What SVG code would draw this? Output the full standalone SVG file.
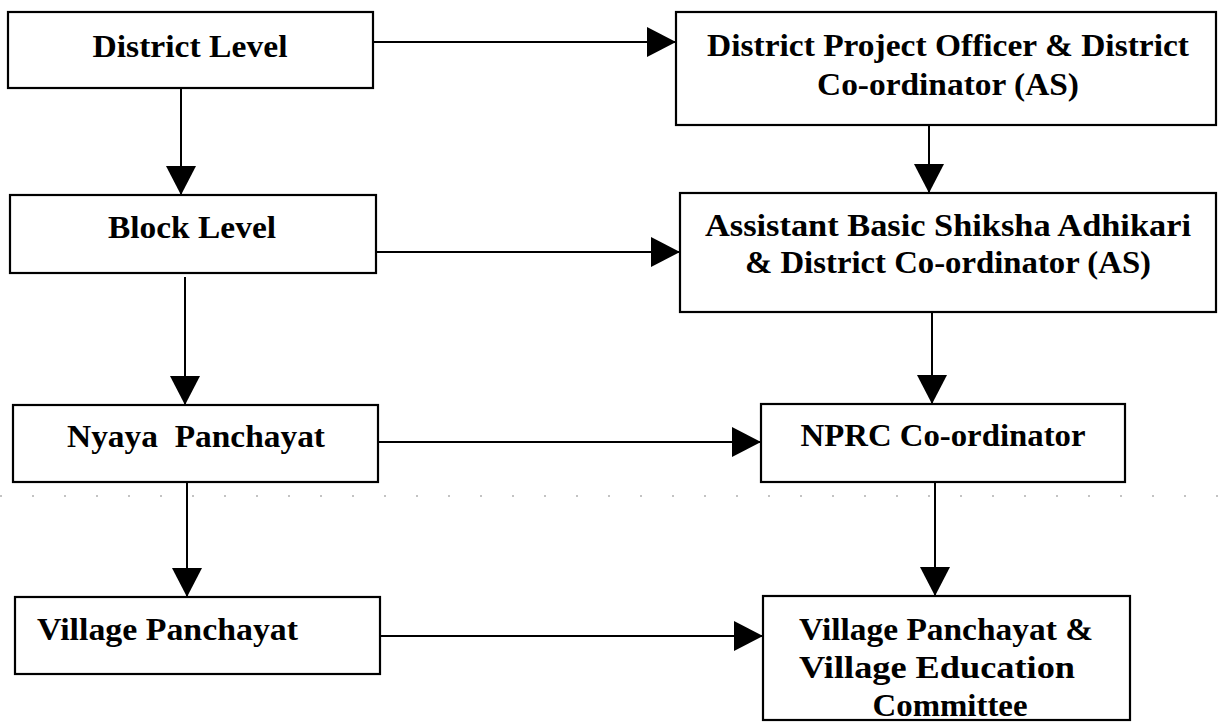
<svg xmlns="http://www.w3.org/2000/svg" width="1225" height="728" viewBox="0 0 1225 728">
<defs>
<style>
.box{fill:#fff;stroke:#000;stroke-width:2.2}
.lbl{font-family:"Liberation Serif","Times New Roman",serif;font-weight:bold;font-size:32px;fill:#000}
.c{text-anchor:middle}
.con{stroke:#000;stroke-width:2;fill:none;marker-end:url(#ah)}
.dots{stroke:#888;stroke-width:1.2;stroke-dasharray:2 30;fill:none}
</style>
<marker id="ah" markerUnits="userSpaceOnUse" markerWidth="29" markerHeight="30" refX="29" refY="15" orient="auto" viewBox="0 0 29 30">
<path d="M0,0 L29,15 L0,30 Z" fill="#000"/>
</marker>
</defs>
<rect width="1225" height="728" fill="#fff"/>
<line class="dots" x1="0" y1="496" x2="1225" y2="496"/>
<g id="connectors">
<line class="con" x1="373" y1="42" x2="676" y2="42"/>
<line class="con" x1="181" y1="88" x2="181" y2="195"/>
<line class="con" x1="929" y1="125" x2="929" y2="193"/>
<line class="con" x1="376" y1="252" x2="680" y2="252"/>
<line class="con" x1="185" y1="277" x2="185" y2="405"/>
<line class="con" x1="932" y1="312" x2="932" y2="404"/>
<line class="con" x1="378" y1="442" x2="761" y2="442"/>
<line class="con" x1="187" y1="482" x2="187" y2="597"/>
<line class="con" x1="935" y1="482" x2="935" y2="596"/>
<line class="con" x1="380" y1="636" x2="763" y2="636"/>
</g>
<g id="district-level">
<rect class="box" x="8" y="12" width="365" height="76"/>
<text class="lbl c" x="190" y="57" textLength="195" lengthAdjust="spacingAndGlyphs">District Level</text>
</g>
<g id="dpo">
<rect class="box" x="676" y="12" width="540" height="113"/>
<text class="lbl c" x="948" y="56" textLength="482" lengthAdjust="spacingAndGlyphs">District Project Officer &amp; District</text>
<text class="lbl c" x="948" y="95" textLength="262" lengthAdjust="spacingAndGlyphs">Co-ordinator (AS)</text>
</g>
<g id="block-level">
<rect class="box" x="10" y="195" width="366" height="78"/>
<text class="lbl c" x="192" y="238" textLength="168" lengthAdjust="spacingAndGlyphs">Block Level</text>
</g>
<g id="absa">
<rect class="box" x="680" y="193" width="536" height="119"/>
<text class="lbl c" x="948" y="236" textLength="486" lengthAdjust="spacingAndGlyphs">Assistant Basic Shiksha Adhikari</text>
<text class="lbl c" x="948" y="273" textLength="406" lengthAdjust="spacingAndGlyphs">&amp; District Co-ordinator (AS)</text>
</g>
<g id="nyaya-panchayat">
<rect class="box" x="13" y="405" width="365" height="77"/>
<text class="lbl c" x="196" y="447" textLength="258" lengthAdjust="spacingAndGlyphs" xml:space="preserve">Nyaya  Panchayat</text>
</g>
<g id="nprc">
<rect class="box" x="761" y="404" width="364" height="78"/>
<text class="lbl c" x="943" y="446" textLength="285" lengthAdjust="spacingAndGlyphs">NPRC Co-ordinator</text>
</g>
<g id="village-panchayat">
<rect class="box" x="15" y="597" width="365" height="77"/>
<text class="lbl" x="37" y="640" textLength="261" lengthAdjust="spacingAndGlyphs">Village Panchayat</text>
</g>
<g id="vpvec">
<rect class="box" x="763" y="596" width="367" height="124"/>
<text class="lbl c" x="946" y="640" textLength="294" lengthAdjust="spacingAndGlyphs">Village Panchayat &amp;</text>
<text class="lbl c" x="937" y="678" textLength="276" lengthAdjust="spacingAndGlyphs">Village Education</text>
<text class="lbl c" x="950" y="716" textLength="155" lengthAdjust="spacingAndGlyphs">Committee</text>
</g>
</svg>
